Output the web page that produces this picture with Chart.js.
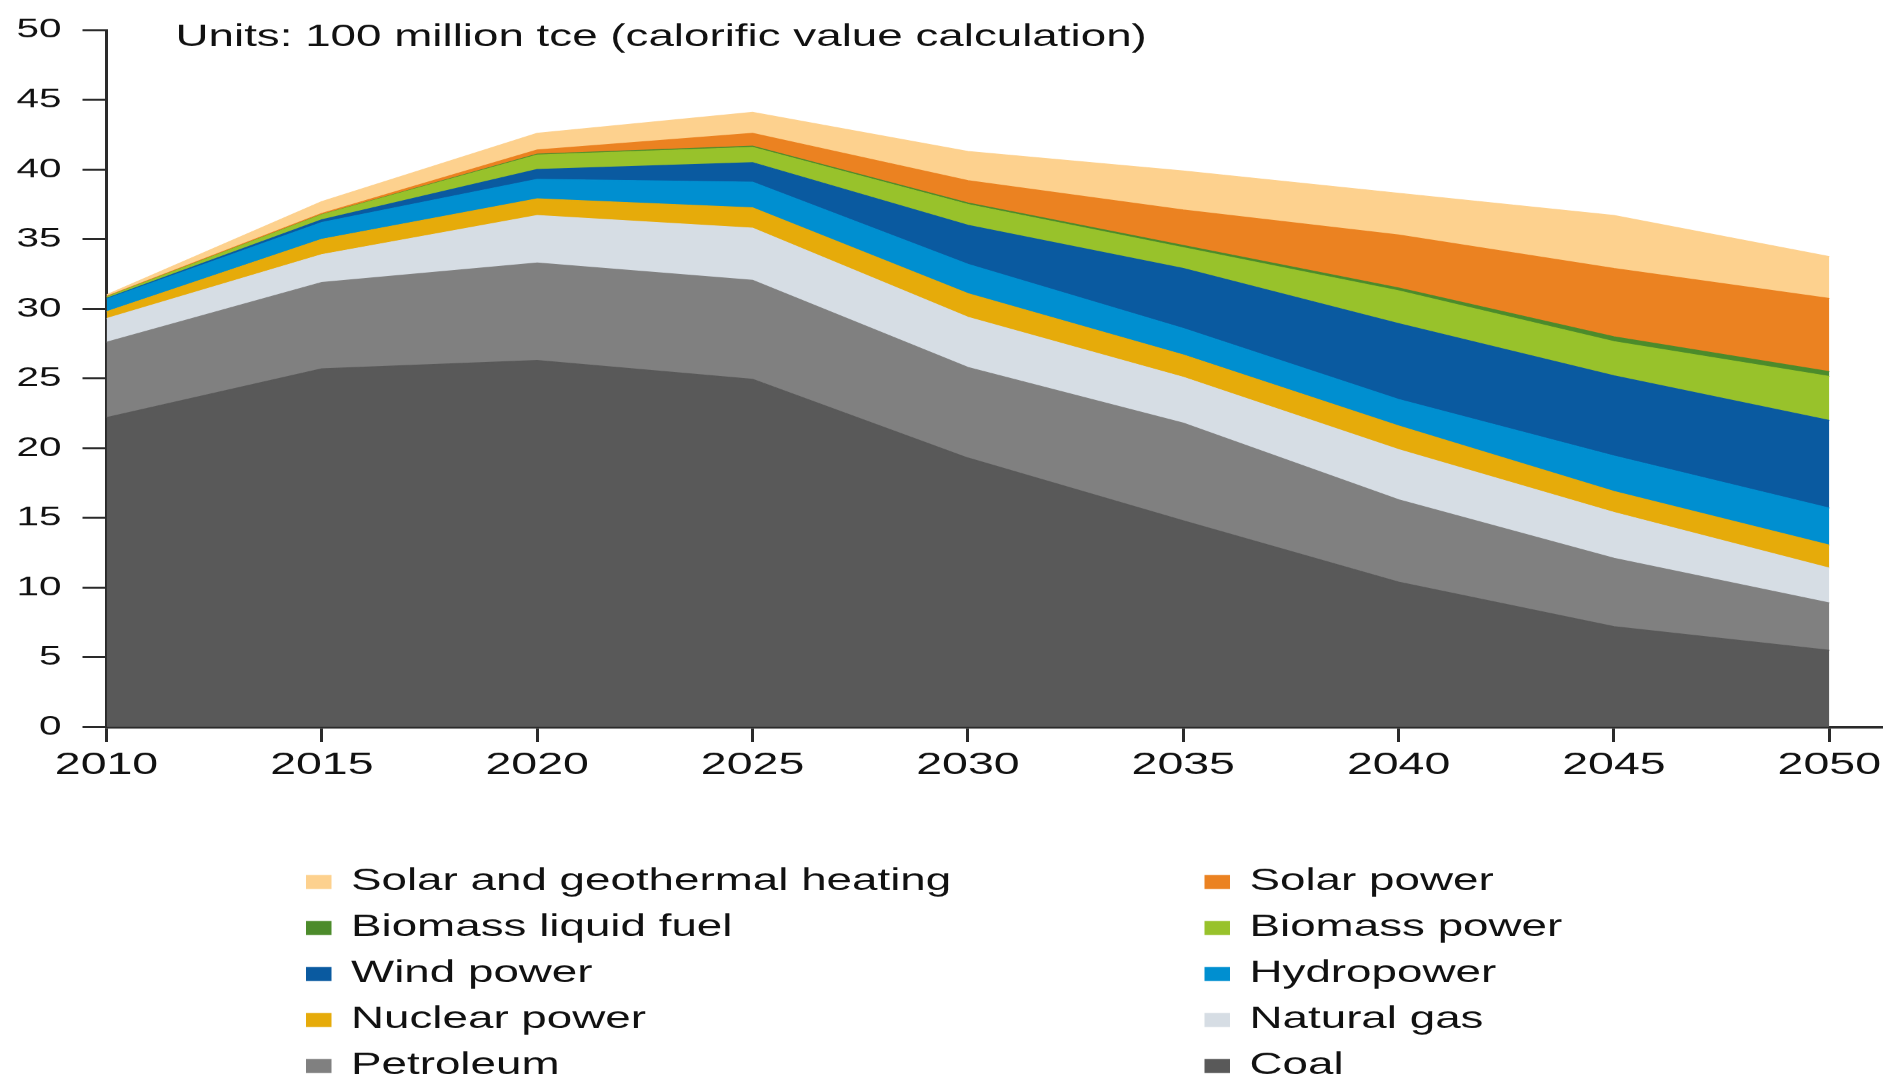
<!DOCTYPE html>
<html>
<head>
<meta charset="utf-8">
<title>Primary energy consumption 2010-2050</title>
<script src="https://cdn.jsdelivr.net/npm/chart.js@4.4.1/dist/chart.umd.min.js"></script>
<style>
  html, body { margin: 0; padding: 0; background: #fff; overflow: hidden; }
  body { width: 1899px; height: 1080px; position: relative; }
  /* the chart is laid out narrow and widened to the full page */
  #wrap {
    position: absolute; left: 0; top: 0;
    width: 1266px; height: 1080px;
    transform: scaleX(1.5); transform-origin: 0 0;
  }
</style>
</head>
<body>
<div id="wrap"><canvas id="chart"></canvas></div>
<script>
// 100 million tce, one value per year below
const years = [2010, 2015, 2020, 2025, 2030, 2035, 2040, 2045, 2050];
const yTicks = [0, 5, 10, 15, 20, 25, 30, 35, 40, 45, 50];

const coal          = [22.2, 25.7, 26.3, 24.95, 19.3, 14.8, 10.4, 7.2, 5.5];
const petroleum     = [5.4, 6.2, 7.0, 7.1, 6.5, 7.0, 5.9, 4.9, 3.4];
const naturalGas    = [1.7, 2.0, 3.4, 3.75, 3.6, 3.3, 3.6, 3.3, 2.5];
const nuclear       = [0.5, 1.1, 1.2, 1.45, 1.7, 1.6, 1.7, 1.5, 1.65];
const hydro         = [0.9, 1.2, 1.4, 1.85, 2.1, 1.9, 1.9, 2.55, 2.65];
const wind          = [0.05, 0.2, 0.7, 1.4, 2.8, 4.3, 5.45, 5.75, 6.3];
const biomassPower  = [0.1, 0.35, 1.05, 1.1, 1.5, 1.5, 2.35, 2.45, 3.15];
const biomassLiquid = [0.0, 0.02, 0.05, 0.08, 0.1, 0.15, 0.2, 0.35, 0.35];
const solarPower    = [0.05, 0.08, 0.3, 0.92, 1.6, 2.55, 3.8, 4.9, 5.25];
const solarHeating  = [0.1, 0.85, 1.2, 1.5, 2.1, 2.8, 3.0, 3.8, 3.0];

// bottom of the stack first
const layers = [
  ['Coal', coal, '#595959'],
  ['Petroleum', petroleum, '#808080'],
  ['Natural gas', naturalGas, '#d6dde4'],
  ['Nuclear power', nuclear, '#e6ab0a'],
  ['Hydropower', hydro, '#008fd0'],
  ['Wind power', wind, '#0a5aa0'],
  ['Biomass power', biomassPower, '#98c22b'],
  ['Biomass liquid fuel', biomassLiquid, '#4c8b2b'],
  ['Solar power', solarPower, '#eb8221'],
  ['Solar and geothermal heating', solarHeating, '#fdd18e']
];

const datasets = layers.map(([label, values, color], i) => ({
  label: label,
  data: years.map((yr, j) => ({ x: yr, y: values[j] })),
  backgroundColor: color,
  borderColor: color,
  borderWidth: 1,
  pointRadius: 0,
  tension: 0,
  fill: i === 0 ? 'origin' : '-1'
}));

const TEXT = '#111';
const FONT = '"Liberation Sans", Arial, sans-serif';

// units note inside the plot and the two-column key underneath
const annotations = {
  id: 'annotations',
  afterDraw(chart) {
    const ctx = chart.ctx;
    ctx.save();
    ctx.fillStyle = TEXT;
    ctx.textBaseline = 'alphabetic';
    ctx.font = '30.5px ' + FONT;
    ctx.fillText('Units: 100 million tce (calorific value calculation)', 117, 46);

    const items = chart.data.datasets.slice().reverse();
    items.forEach((ds, k) => {
      const x = k % 2 ? 803 : 204;
      const base = 890 + Math.floor(k / 2) * 46;
      ctx.fillStyle = ds.backgroundColor;
      ctx.fillRect(x, base - 15, 17, 14);
      ctx.fillStyle = TEXT;
      ctx.fillText(ds.label, x + 30, base);
    });
    ctx.restore();
  }
};

new Chart(document.getElementById('chart'), {
  type: 'line',
  data: { datasets: datasets },
  plugins: [annotations],
  options: {
    responsive: true,
    maintainAspectRatio: false,
    animation: false,
    devicePixelRatio: 1.5,
    layout: { padding: { top: 22, right: 12, bottom: 283, left: 0 } },
    plugins: {
      legend: { display: false },
      tooltip: { enabled: false }
    },
    scales: {
      x: {
        type: 'linear',
        min: 2010,
        max: 2051.2,
        afterBuildTicks: s => { s.ticks = years.map(v => ({ value: v })); },
        afterFit: s => { s.height = 70; },
        grid: { drawOnChartArea: false, drawTicks: true, tickLength: 15, color: '#2a2a2a', lineWidth: 2 },
        border: { display: true, color: '#2a2a2a', width: 2.5 },
        ticks: {
          padding: 5,
          color: TEXT,
          font: { family: FONT, size: 31 },
          maxRotation: 0,
          callback: v => String(v)
        }
      },
      y: {
        stacked: true,
        min: 0,
        max: 50,
        afterBuildTicks: s => { s.ticks = yTicks.map(v => ({ value: v })); },
        afterFit: s => { s.width = 71; },
        grid: { drawOnChartArea: false, drawTicks: true, tickLength: 16, color: '#2a2a2a', lineWidth: 2 },
        border: { display: true, color: '#2a2a2a', width: 2 },
        ticks: {
          padding: 14,
          color: TEXT,
          font: { family: FONT, size: 27 },
          callback: v => String(v)
        }
      }
    }
  }
});
</script>
</body>
</html>
